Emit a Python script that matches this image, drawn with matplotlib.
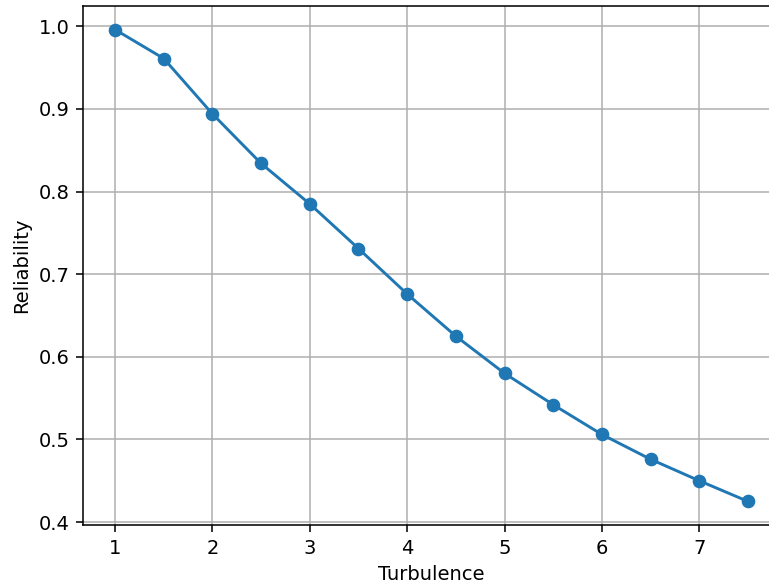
import numpy as np
import matplotlib.pyplot as plt

turbulence = [1, 1.5, 2, 2.5, 3, 3.5, 4, 4.5, 5, 5.5, 6, 6.5, 7, 7.5]
reliability = [0.996, 0.961, 0.894, 0.834, 0.785, 0.731, 0.676, 0.625,
               0.580, 0.542, 0.506, 0.476, 0.450, 0.425]

# rendered at higher dpi, right side cut off as in the original screenshot
dpi = 140
fig = plt.figure(figsize=(769 / dpi, 587 / dpi), dpi=dpi)
ax = fig.add_axes([83.4 / 769, 62 / 587, (779.6 - 83.4) / 769, 519 / 587])

ax.plot(turbulence, reliability, marker='o', color='#1f77b4')
ax.set_xlabel('Turbulence')
ax.set_ylabel('Reliability')
ax.grid(True)

fig.savefig('out.png', dpi=dpi)
